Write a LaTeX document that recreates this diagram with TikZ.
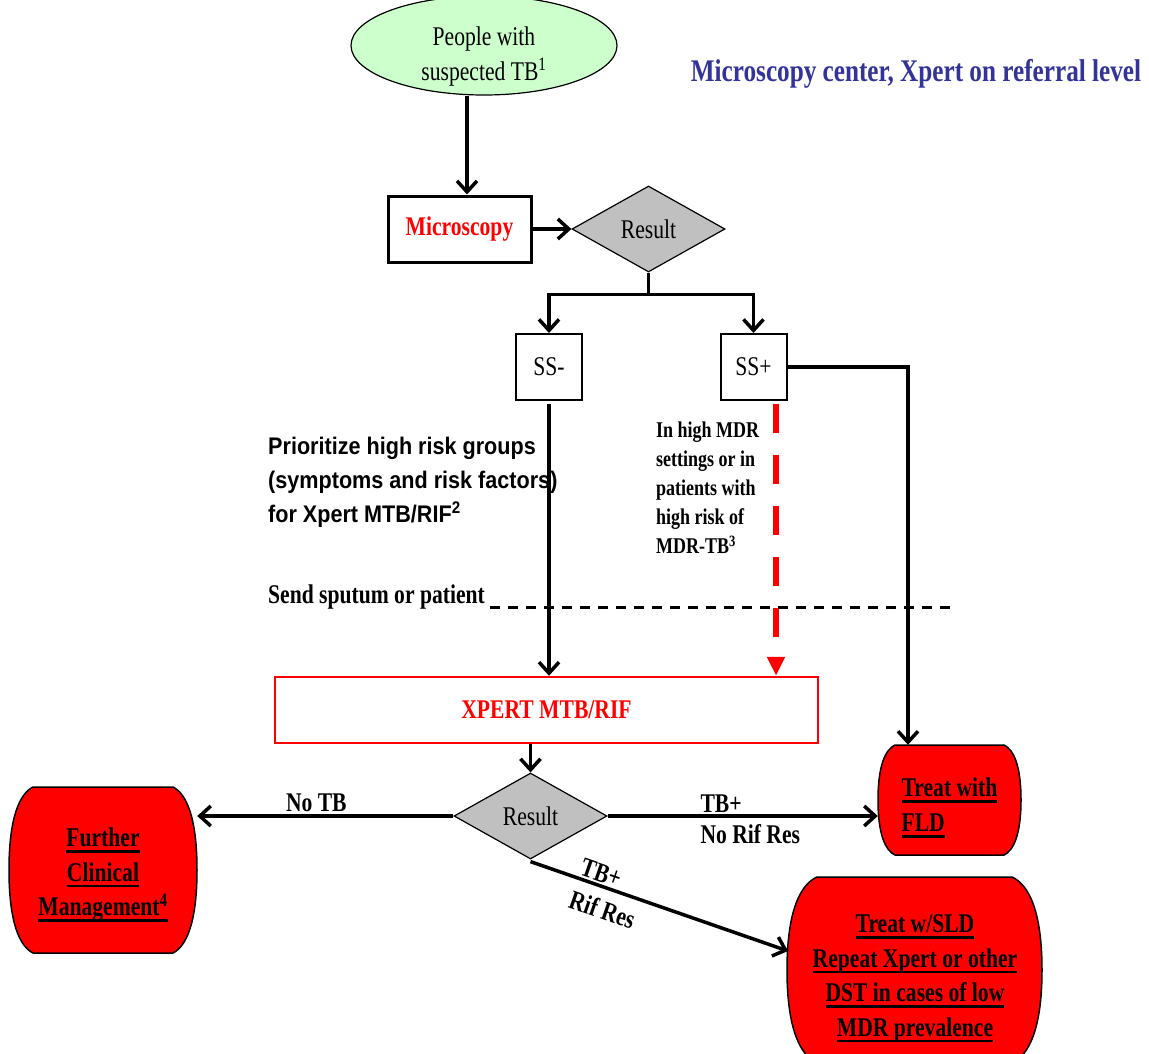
\documentclass[tikz,border=0pt]{standalone}
\usepackage{fontspec}
\setmainfont{Liberation Serif}[FakeStretch=0.8]
\newfontfamily\arialfont{Liberation Sans}[FakeStretch=0.9]
\usetikzlibrary{shapes.geometric,arrows.meta,calc}
\definecolor{lgreen}{RGB}{204,255,204}
\definecolor{tblue}{RGB}{51,51,153}
\definecolor{dgray}{RGB}{192,192,192}
\newcommand\fsz[2]{\fontsize{#1}{#2}\selectfont}
\newsavebox\myulbox
\newcommand\myul[1]{\sbox\myulbox{#1}\rlap{\rule[-6pt]{\wd\myulbox}{2.4pt}}\usebox\myulbox}
% x-left, y-top, x-right, y-bottom, inset
\newcommand\barrelpath[5]{%
  \pgfmathsetmacro\bm{(#2+#4)/2}%
  \pgfmathsetmacro\bh{#2-#4}%
  \path[barrelline] (#1+#5,#2) -- (#3-#5,#2)
    .. controls ({#3-0.45*#5},{#2-0.04*\bh}) and (#3,{\bm+0.32*\bh}) .. (#3,\bm)
    .. controls (#3,{\bm-0.32*\bh}) and ({#3-0.45*#5},{#4+0.04*\bh}) .. (#3-#5,#4)
    -- (#1+#5,#4)
    .. controls ({#1+0.45*#5},{#4+0.04*\bh}) and (#1,{\bm-0.32*\bh}) .. (#1,\bm)
    .. controls (#1,{\bm+0.32*\bh}) and ({#1+0.45*#5},{#2-0.04*\bh}) .. cycle;}
\tikzset{
  conn/.style={line width=3.5pt, -{Straight Barb[length=11pt,width=20pt]}},
  plainline/.style={line width=3.5pt},
  dia/.style={diamond, draw, line width=1.2pt, fill=dgray, inner sep=0pt, aspect=1.78, font=\fsz{27}{32}},
  barrelline/.style={draw=black, line width=1.5pt, fill=red},
  barreltext/.style={draw=none, inner sep=0pt, align=center, font=\fsz{27}{34.5}\bfseries},
  divider/.style={line width=3pt, dash pattern=on 10pt off 8pt},
  reddash/.style={draw=red, line width=5.5pt, dash pattern=on 29pt off 22pt, -{Triangle[length=19pt,width=17pt]}},
  lbl/.style={font=\fsz{27}{32}\bfseries, inner sep=2pt},
}
\begin{document}
\begin{tikzpicture}[x=1pt,y=1pt]
\useasboundingbox (0,0) rectangle (1149,-1053);
\fill[white] (0,0) rectangle (1149,-1053);

% barrel shapes
\barrelpath{9}{-787}{197}{-953}{24}
\barrelpath{878}{-745}{1021}{-855}{17}
\barrelpath{787}{-877}{1042}{-1063}{30}

% nodes
\node[ellipse, draw, line width=1.2pt, fill=lgreen, minimum width=266pt, minimum height=85pt, inner sep=0pt, font=\fsz{27}{35}] (ppl) at (484,-45.5)
  {\raisebox{-10pt}[\height][\depth]{\begin{tabular}{@{}c@{}}People with\\suspected TB\textsuperscript{1}\end{tabular}}};
\node[font=\fsz{31.5}{37}\bfseries, text=tblue] (title) at (916,-74) {Microscopy center, Xpert on referral level};
\node[draw, line width=3pt, minimum width=143pt, minimum height=66pt, inner sep=0pt, text=red, font=\fsz{27}{32}\bfseries] (micro) at (459.5,-229) {Microscopy};
\node[dia, minimum width=153pt, minimum height=86pt] (d1) at (648.5,-229) {Result};
\node[draw, line width=2pt, minimum width=66pt, minimum height=66pt, inner sep=0pt, font=\fsz{27}{32}] (ssm) at (549,-367) {SS-};
\node[draw, line width=2pt, minimum width=66pt, minimum height=66pt, inner sep=0pt, font=\fsz{27}{32}] (ssp) at (753.5,-367) {SS+};
\node[anchor=west, align=left, inner sep=0pt, font=\arialfont\fsz{24}{34}\bfseries] (prio) at (268,-482)
  {Prioritize high risk groups\\(symptoms and risk factors)\\for Xpert MTB/RIF\textsuperscript{2}};
\node[anchor=west, align=left, inner sep=0pt, font=\fsz{22.5}{29}\bfseries] (mdr) at (656,-488)
  {In high MDR\\settings or in\\patients with\\high risk of\\MDR-TB\textsuperscript{3}};
\node[anchor=west, inner sep=0pt, font=\fsz{27}{32}\bfseries] (send) at (268,-597) {Send sputum or patient};
\node[draw=red, line width=2.5pt, minimum width=543pt, minimum height=66pt, inner sep=0pt, text=red, font=\fsz{27}{32}\bfseries] (xpert) at (546.5,-710) {XPERT MTB/RIF};
\node[dia, minimum width=153pt, minimum height=86pt] (d2) at (530.5,-816) {Result};
\node[barreltext, minimum width=188pt, minimum height=166pt] (further) at (103,-875)
  {\myul{Further}\\\myul{Clinical}\\\myul{Management\textsuperscript{4}}};
\node[barreltext, align=left, minimum width=143pt, minimum height=126pt, font=\fsz{27}{35}\bfseries] (fld) at (949.5,-808)
  {\myul{Treat with}\\\myul{FLD}};
\node[barreltext, minimum width=255pt, minimum height=186pt] (sld) at (915,-978.5)
  {\myul{Treat w/SLD}\\\myul{Repeat Xpert or other}\\\myul{DST in cases of low}\\\myul{MDR prevalence}};

% helper coordinates
\coordinate (cppl) at (467,0);
\coordinate (cfld) at (908,0);
\coordinate (cred) at (776,0);
\coordinate (csld) at (788,-951);

% connectors
\draw[conn] (ppl.south -| cppl) -- (micro.north -| cppl);
\draw[conn] (micro.east) -- (d1.west);
\draw[plainline] (d1.south) -- ++(0,-22) coordinate (br);
\draw[conn] (br) -| (ssm.north);
\draw[conn] (br) -| (ssp.north);
\draw[conn] (ssp.east) -| (fld.north -| cfld) ;
\draw[conn] ([yshift=-3pt]ssm.south) -- (ssm.south |- xpert.north);
\draw[reddash] ([yshift=-3pt]ssp.south -| cred) -- (xpert.north -| cred);
\draw[divider] (490,-607) -- (950,-607);
\draw[conn] (xpert.south -| d2.north) -- (d2.north);
\draw[conn] (d2.west) -- (d2.west -| further.east)
  node[lbl, pos=0.535, anchor=south] {No TB};
\draw[conn] (d2.east) -- (d2.east -| fld.west)
  node[lbl, pos=0.33, anchor=south west] {TB+}
  node[lbl, pos=0.33, anchor=north west, yshift=-5pt] {No Rif Res};
\draw[conn] ([yshift=-2pt]d2.south) -- (csld)
  node[lbl, sloped, pos=0.3, xshift=2pt, yshift=-5pt, align=left, font=\fsz{27}{35}\bfseries] {TB+\\Rif Res};
\end{tikzpicture}
\end{document}
